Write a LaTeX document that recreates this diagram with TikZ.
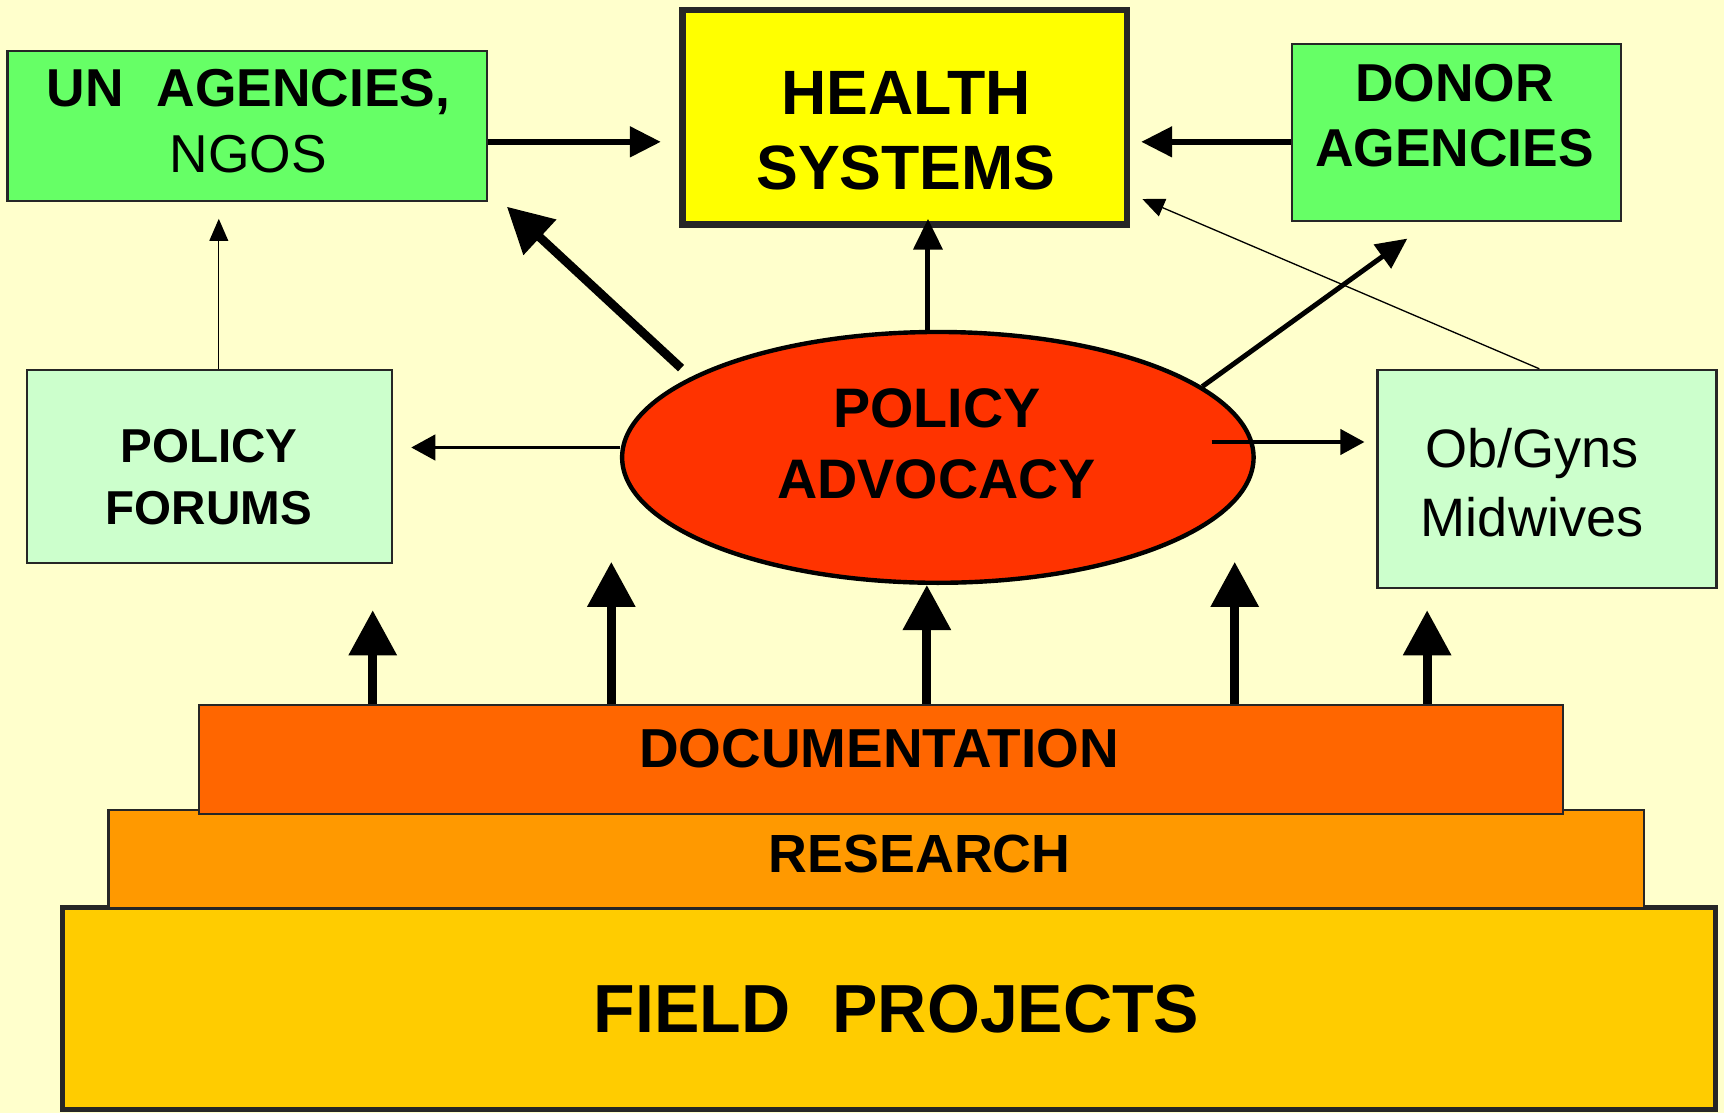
\documentclass[tikz,border=0pt]{standalone}
\usepackage{fontspec}
\setmainfont{Liberation Sans}
\usetikzlibrary{arrows.meta,shapes.geometric}

\definecolor{paper}{HTML}{FFFFCC}
\definecolor{agencygreen}{HTML}{66FF66}
\definecolor{palegreen}{HTML}{CCFFCC}
\definecolor{hsyellow}{HTML}{FFFF00}
\definecolor{advred}{HTML}{FF3300}
\definecolor{docorange}{HTML}{FF6600}
\definecolor{resorange}{HTML}{FF9900}
\definecolor{fieldgold}{HTML}{FFCC00}

\begin{document}
\begin{tikzpicture}[x=0.01cm, y=-0.01cm,
	box/.style={draw=black!85, line width=0.02cm, inner sep=0pt},
	lbl/.style={inner sep=0pt, align=center},
	bigarrow/.style={-{Triangle[length=0.41cm,width=0.42cm]}, line width=0.08cm},
	midarrow/.style={-{Triangle[length=0.28cm,width=0.27cm]}, line width=0.05cm},
	slimarrow/.style={-{Triangle[length=0.28cm,width=0.26cm]}, line width=0.045cm},
	sidearrow/.style={-{Triangle[length=0.22cm,width=0.23cm]}, line width=0.035cm},
	thinarrow/.style={-{Triangle[length=0.2cm,width=0.17cm]}, line width=0.012cm}]
	\fill[paper] (0,0) rectangle (1568,1012);
	\useasboundingbox (0,0) rectangle (1568,1012);
	% the base
	\node[box, fill=fieldgold, line width=0.045cm, minimum width=15.025cm, minimum height=1.835cm] (field) at (808.5,917) {};
	\node[box, fill=resorange, minimum width=13.96cm, minimum height=0.89cm] (res) at (797,781.5) {};
	\node[box, fill=docorange, minimum width=12.4cm, minimum height=0.99cm] (doc) at (801,690.5) {};
	\node[lbl, font=\fontsize{17.6}{20}\selectfont\bfseries] (fieldtext) at (815.5,918) {FIELD\hspace{0.62em}PROJECTS};
	\node[lbl, font=\fontsize{13.9}{16}\selectfont\bfseries] (restext) at (836.5,777) {RESEARCH};
	\node[lbl, font=\fontsize{14.2}{16}\selectfont\bfseries] (doctext) at (799.5,681) {DOCUMENTATION};
	% top row
	\node[box, fill=agencygreen, minimum width=4.36cm, minimum height=1.36cm] (un) at (225,114.5) {};
	\node[box, fill=hsyellow, line width=0.06cm, minimum width=4.04cm, minimum height=1.95cm] (hs) at (823,106.5) {};
	\node[box, fill=agencygreen, minimum width=2.99cm, minimum height=1.61cm] (donor) at (1324.5,120.5) {};
	\node[lbl, font=\fontsize{13.8}{17.1}\selectfont] (untext) at (226,110) {\textbf{UN\hspace{0.62em}AGENCIES,}\\NGOS};
	\node[lbl, font=\fontsize{16.2}{19.2}\selectfont\bfseries] (hstext) at (824,119) {HEALTH\\SYSTEMS};
	\node[lbl, font=\fontsize{13.8}{16.9}\selectfont\bfseries] (donortext) at (1323,105) {DONOR\\AGENCIES};
	% middle row
	\node[box, fill=palegreen, minimum width=3.32cm, minimum height=1.755cm] (pf) at (190.5,424) {};
	\node[box, fill=palegreen, minimum width=3.08cm, minimum height=1.985cm] (ob) at (1407,435.7) {};
	\node[ellipse, draw, fill=advred, line width=0.04cm, inner sep=0pt, minimum width=5.74cm, minimum height=2.28cm] (adv) at (853,416) {};
	\node[lbl, font=\fontsize{12.3}{16.1}\selectfont\bfseries] (pftext) at (190,434) {POLICY\\FORUMS};
	\node[lbl, font=\fontsize{14}{17.8}\selectfont] (obtext) at (1393.5,439) {Ob/Gyns\\Midwives};
	\node[lbl, font=\fontsize{14.4}{18.5}\selectfont\bfseries] (advtext) at (852,403.5) {POLICY\\ADVOCACY};
	% free ends of the arrows
	\coordinate (unhs) at (601,129);
	\coordinate (donorhs) at (1038,129);
	\coordinate (advun) at (461,188);
	\coordinate (advhs) at (844,199);
	\coordinate (advdonor) at (1280,217);
	\coordinate (obhs) at (1039,181);
	\coordinate (pfun) at (199,199);
	\coordinate (advpf) at (374,407);
	\coordinate (advobtail) at (1102,402);
	\coordinate (advob) at (1241,402);
	% arrows
	\draw[midarrow] (un.east |- unhs) -- (unhs);
	\draw[midarrow] (donor.west |- donorhs) -- (donorhs);
	\draw[bigarrow, shorten <=0.12cm] (adv.162) -- (advun);
	\draw[slimarrow] (advhs |- adv.north) -- (advhs);
	\draw[slimarrow] (adv.15) -- (advdonor);
	\draw[thinarrow] ([xshift=-0.07cm]ob.north) -- (obhs);
	\draw[thinarrow] (pfun |- pf.north) -- (pfun);
	\draw[sidearrow] (adv.west |- advpf) -- (advpf);
	\draw[sidearrow] (advobtail) -- (advob);
	% going up
	\foreach \x/\y in {339/555, 556/511, 843/532, 1123/511, 1298/555}
		\draw[bigarrow] (doc.north -| \x,\y) -- (\x,\y);
\end{tikzpicture}
\end{document}
